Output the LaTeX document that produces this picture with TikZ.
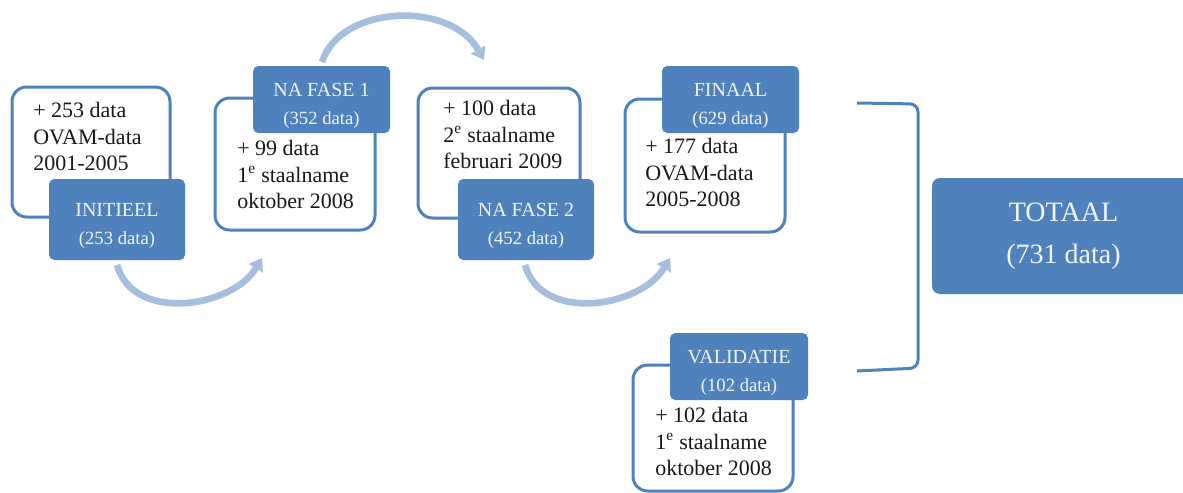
\documentclass[tikz,border=0pt]{standalone}
\usepackage{fontspec}
\setmainfont{Liberation Serif}
\usepackage{tikz}
\usetikzlibrary{arrows.meta,positioning}
\usepackage{xcolor}

\definecolor{accent}{RGB}{79,129,189}
\definecolor{flowblue}{RGB}{167,191,222}
\definecolor{labeltext}{RGB}{240,244,250}
\newcommand{\datacount}[1]{{\fontsize{14}{21}\selectfont #1}}

\begin{document}
\begin{tikzpicture}[x=0.75pt,y=-0.75pt]
    \tikzset{Panel/.style={%
        shape=rectangle,%
        draw=accent,%
        line width=2.25pt,%
        rounded corners=11pt,%
        fill=white,%
        inner sep=0pt,%
    }}
    \tikzset{Label/.style={%
        shape=rectangle,%
        fill=accent,%
        rounded corners=4pt,%
        text=labeltext,%
        align=center,%
        inner sep=0pt,%
        font=\fontsize{15}{21}\selectfont,%
    }}
    \tikzset{Note/.style={%
        anchor=north west,%
        align=left,%
        inner sep=0pt,%
        text=black!90,%
        font=\fontsize{16.5}{20}\selectfont,%
    }}
    \tikzset{Flow/.style={%
        draw=flowblue,%
        line width=5pt,%
        -{Triangle[length=9pt,width=12pt]},%
    }}

    \useasboundingbox (0,0) rectangle (1183,493);
    \clip (0,0) rectangle (1183,493);

    % stappen
    \node[Panel, minimum width=118.5pt, minimum height=97.5pt] (pinit) at (91,152) {};
    \node[Note] (ninit) at (33,102) {+ 253 data\\OVAM-data\\2001-2005};
    \node[Label, minimum width=102pt, minimum height=60.75pt] (init) at (117,219.5) {\rule{0pt}{19pt}INITIEEL\\\datacount{(253 data)}};

    \node[Panel, minimum width=120pt, minimum height=99pt] (pfase1) at (295,164) {};
    \node[Note] (nfase1) at (237,140) {+ 99 data\\1\textsuperscript{e} staalname\\oktober 2008};
    \node[Label, minimum width=102.75pt, minimum height=50.25pt] (fase1) at (321.5,99.5) {\rule{0pt}{19pt}NA FASE 1\\\datacount{(352 data)}};

    \node[Panel, minimum width=121.5pt, minimum height=97.5pt] (pfase2) at (499,153) {};
    \node[Note] (nfase2) at (443,100) {+ 100 data\\2\textsuperscript{e} staalname\\februari 2009};
    \node[Label, minimum width=102pt, minimum height=60.75pt] (fase2) at (526,219.5) {\rule{0pt}{19pt}NA FASE 2\\\datacount{(452 data)}};

    \node[Panel, minimum width=120pt, minimum height=99.75pt] (pfinaal) at (705,165.5) {};
    \node[Note] (nfinaal) at (645,138) {+ 177 data\\OVAM-data\\2005-2008};
    \node[Label, minimum width=102.75pt, minimum height=50.25pt] (finaal) at (730.5,99.5) {\rule{0pt}{19pt}FINAAL\\\datacount{(629 data)}};

    \node[Panel, minimum width=120pt, minimum height=94.5pt] (pvalid) at (713,428) {};
    \node[Note] (nvalid) at (655,407) {+ 102 data\\1\textsuperscript{e} staalname\\oktober 2008};
    \node[Label, minimum width=103.5pt, minimum height=50.25pt] (valid) at (739,366.5) {\rule{0pt}{19pt}VALIDATIE\\\datacount{(102 data)}};

    \node[Label, minimum width=197.25pt, minimum height=87pt, rounded corners=6pt,
          font=\fontsize{21}{31.5}\selectfont] (totaal) at (1063.5,236) {TOTAAL\\(731 data)};

    % pijlen
    \coordinate (a1s) at (117,265);
    \coordinate (a1e) at (262,258);
    \coordinate (a2s) at (322,62);
    \coordinate (a2e) at (484,60);
    \coordinate (a3s) at (525,265);
    \coordinate (a3e) at (670,258);
    \draw[Flow] (a1s) .. controls +(16,58) and +(-30,50) .. (a1e);
    \draw[Flow] (a2s) .. controls +(18,-57) and +(-34,-60) .. (a2e);
    \draw[Flow] (a3s) .. controls +(16,58) and +(-30,50) .. (a3e);

    % accolade
    \draw[accent, line width=2.25pt, rounded corners=6pt] (857,103) -- (918,104) -- (918,368) -- (857,371);
\end{tikzpicture}
\end{document}
